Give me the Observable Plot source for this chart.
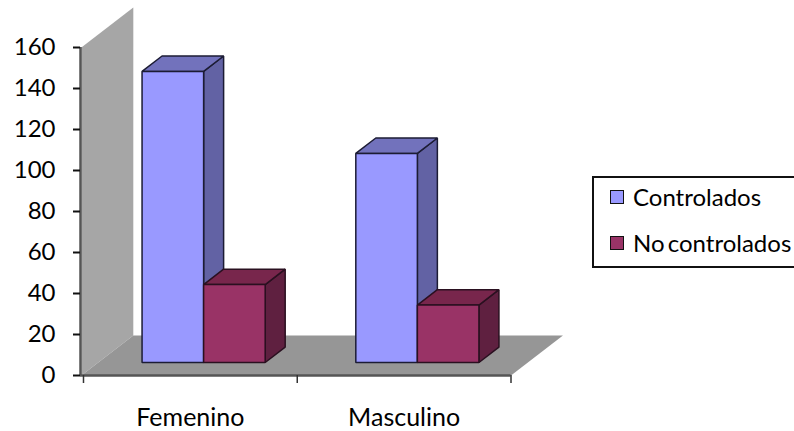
<!DOCTYPE html>
<html>
<head>
<meta charset="utf-8">
<script src="https://cdn.jsdelivr.net/npm/d3@7"></script>
<script src="https://cdn.jsdelivr.net/npm/@observablehq/plot@0.6"></script>
<style>
  html, body { margin: 0; padding: 0; background: #fff; overflow: hidden; }
  #chart { position: relative; width: 794px; height: 431px; font-family: Lato, sans-serif; }
  #legend { position: absolute; left: 592px; top: 176px; width: 204px; height: 88px; border: 2px solid #111; background: #fff; font-size: 24px; color: #000; }
  #legend div { position: absolute; left: 16px; white-space: nowrap; display: flex; align-items: center; word-spacing: -3px; }
  #legend i { display: block; width: 12px; height: 12px; border: 1.5px solid #111; margin-right: 9px; }
</style>
</head>
<body>
<div id="chart"></div>
<script>
const categories = ["Femenino", "Masculino"];
const series = ["Controlados", "No controlados"];
const controlados = [142, 102];
const noControlados = [38, 28];
const yTicks = [0, 20, 40, 60, 80, 100, 120, 140, 160];
const xTicks = [0, 1, 2];

// Face colours for each series: front, side, top
const seriesColors = [
  {front: "#9999ff", side: "#6262a4", top: "#7272bc"},
  {front: "#993366", side: "#5f2040", top: "#78264c"}
];
const values = [controlados, noControlados];

// Oblique projection: depth 0 is the front of the floor, depth 1 the back wall
const depthX = 0.243;
const depthY = 19.5;
const wallTop = 160;
const wallX = -0.01;
const project = (x, v, d) => ({x: x + d * depthX, y: v + d * depthY});

// Bar layout in category units and depth fractions
const barStart = 0.195;
const barWidth = 0.288;
const barD0 = 0.325;
const barD1 = 0.71;

const face = (corners, fill, stroke = "#1c1c2c", strokeWidth = 1.5) =>
  Plot.line(corners, {x: "x", y: "y", curve: "linear-closed", fill, stroke, strokeWidth, strokeLinejoin: "miter"});

const marks = [];

// Back wall and floor
marks.push(face([project(wallX, 0, 0), project(wallX, wallTop, 0), project(wallX, wallTop, 1), project(wallX, 0, 1)], "#a6a6a6", "none"));
marks.push(face([project(wallX, 0, 0), project(2, 0, 0), project(2, 0, 1), project(wallX, 0, 1)], "#969696", "none"));

// Bars, each built from its value: side, top, then front
categories.forEach((_, c) => {
  series.forEach((_, s) => {
    const v = values[s][c];
    const colors = seriesColors[s];
    const x0 = c + barStart + s * barWidth;
    const x1 = x0 + barWidth;
    const dark = s === 0 ? "#1c1c34" : "#2a1020";
    marks.push(face([project(x1, 0, barD0), project(x1, v, barD0), project(x1, v, barD1), project(x1, 0, barD1)], colors.side, dark));
    marks.push(face([project(x0, v, barD0), project(x1, v, barD0), project(x1, v, barD1), project(x0, v, barD1)], colors.top, dark));
    marks.push(face([project(x0, 0, barD0), project(x1, 0, barD0), project(x1, v, barD0), project(x0, v, barD0)], colors.front, dark));
  });
});

const plot = Plot.plot({
  width: 794,
  height: 431,
  marginLeft: 80,
  marginRight: 283.5,
  marginTop: 47,
  marginBottom: 56,
  style: {fontFamily: "Lato, sans-serif", fontSize: "24px", color: "#000", background: "transparent", overflow: "visible"},
  x: {domain: [-0.014, 2], label: null},
  y: {domain: [0, 160], label: null},
  marks: [
    ...marks,
    Plot.ruleX([-0.014], {y1: 0, y2: 160, stroke: "#555", strokeWidth: 2.5}),
    Plot.ruleY([0], {x1: -0.014, x2: 2, stroke: "#555", strokeWidth: 2.5}),
    Plot.axisY({ticks: yTicks, tickSize: 7, tickPadding: 18, tickFormat: d => d, label: null, stroke: "#111", strokeWidth: 2}),
    Plot.axisX({ticks: xTicks, tickSize: 8, tickPadding: 0, tickFormat: () => "", label: null, stroke: "#333", strokeWidth: 1.5}),
    Plot.text(categories, {x: (_, i) => i + 0.5, y: () => 0, dy: 42, text: d => d, fill: "#000", fontSize: 25})
  ]
});
document.getElementById("chart").appendChild(plot);

// Legend box drawn as an overlay to the right of the plot area
const legend = d3.select("#chart").append("div").attr("id", "legend");
series.forEach((name, s) => {
  const row = legend.append("div").style("top", `${4 + s * 46}px`);
  row.append("i").style("background", seriesColors[s].front);
  row.append("span").text(name);
});
</script>
</body>
</html>
